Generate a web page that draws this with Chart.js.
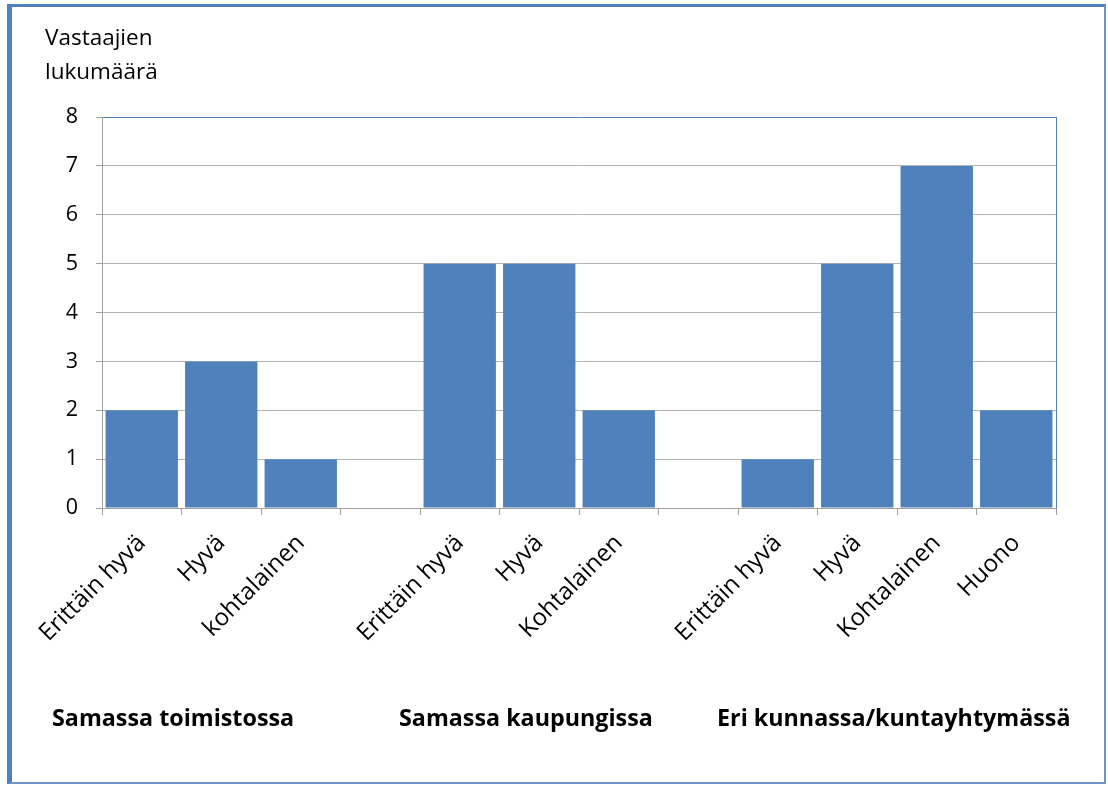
<!DOCTYPE html>
<html>
<head>
<meta charset="utf-8">
<script src="https://cdn.jsdelivr.net/npm/chart.js@4.4.1/dist/chart.umd.min.js"></script>
<style>
  html, body { margin: 0; padding: 0; background: #ffffff; }
  #wrap { position: relative; width: 1108px; height: 785px; overflow: hidden; background: #fff; }
  #frame { position: absolute; left: 7px; top: 4px; width: 1099px; height: 780px; box-sizing: border-box;
           border-left: 5px solid #4f81bd; border-top: 3px solid #4f81bd; border-right: 2px solid #6d95c8; border-bottom: 2px solid #6d95c8; }
  canvas { position: absolute; left: 0; top: 0; }
  .txt { position: absolute; font-family: "Open Sans", sans-serif; color: #000; white-space: nowrap; }
  #ytitle { left: 45px; top: 20px; font-size: 22.5px; line-height: 34px; }
  .grp { top: 702px; font-size: 23.3px; font-weight: bold; line-height: 30px; }
</style>
</head>
<body>
<div id="wrap">
  <div id="frame"></div>
  <canvas id="c" width="1108" height="785"></canvas>
  <div id="ytitle" class="txt"></div>
  <div id="g0" class="txt grp" style="left:52px"></div>
  <div id="g1" class="txt grp" style="left:399px"></div>
  <div id="g2" class="txt grp" style="left:717px"></div>
</div>
<script>
// Categories (empty strings are the gaps between the groups)
const categories = ["Erittäin hyvä", "Hyvä", "kohtalainen", "",
                    "Erittäin hyvä", "Hyvä", "Kohtalainen", "",
                    "Erittäin hyvä", "Hyvä", "Kohtalainen", "Huono"];
const counts = [2, 3, 1, null, 5, 5, 2, null, 1, 5, 7, 2];
const groupNames = ["Samassa toimistossa", "Samassa kaupungissa", "Eri kunnassa/kuntayhtymässä"];
const yTickValues = [0, 1, 2, 3, 4, 5, 6, 7, 8];
const yTitle = ["Vastaajien", "lukumäärä"];

document.getElementById('ytitle').innerHTML = yTitle.join('<br>');
groupNames.forEach((g, i) => { document.getElementById('g' + i).textContent = g; });

const BAR = '#4f81bd';
const GRID = '#b4b4b4';
const AXIS = '#a0a0a0';
const FONT = '"Open Sans", sans-serif';

const plotFrame = {
  id: 'plotFrame',
  afterDraw(chart) {
    const a = chart.chartArea, c = chart.ctx;
    c.save();
    c.strokeStyle = BAR;
    c.lineWidth = 1;
    c.beginPath();
    c.moveTo(a.right + 0.5, a.top);
    c.lineTo(a.right + 0.5, a.bottom);
    c.stroke();
    c.restore();
  }
};

new Chart(document.getElementById('c'), {
  type: 'bar',
  data: {
    labels: categories,
    datasets: [{
      data: counts,
      backgroundColor: BAR,
      borderWidth: 0,
      categoryPercentage: 1.0,
      barPercentage: 0.91
    }]
  },
  options: {
    responsive: false,
    animation: false,
    devicePixelRatio: 1,
    layout: { padding: { left: 0, top: 117, right: 52, bottom: 0 } },
    plugins: { legend: { display: false }, tooltip: { enabled: false }, title: { display: false } },
    scales: {
      x: {
        offset: true,
        grid: { offset: true, drawOnChartArea: false, color: AXIS, tickLength: 7, tickWidth: 1 },
        border: { color: AXIS, width: 1 },
        ticks: {
          autoSkip: false, maxRotation: 45, minRotation: 45, padding: 14,
          color: '#000', font: { family: FONT, size: 24 }
        },
        afterFit(s) { s.height = 277; }
      },
      y: {
        min: 0, max: 8,
        afterBuildTicks(s) { s.ticks = yTickValues.map(v => ({ value: v })); },
        grid: {
          color: ctx => (ctx.tick && ctx.tick.value === 8) ? BAR : GRID,
          tickColor: AXIS, tickLength: 6, lineWidth: 1
        },
        border: { color: AXIS, width: 1 },
        ticks: { padding: 18, color: '#000', font: { family: FONT, size: 21.5 } },
        afterFit(s) { s.width = 102; }
      }
    }
  },
  plugins: [plotFrame]
});
</script>
</body>
</html>
